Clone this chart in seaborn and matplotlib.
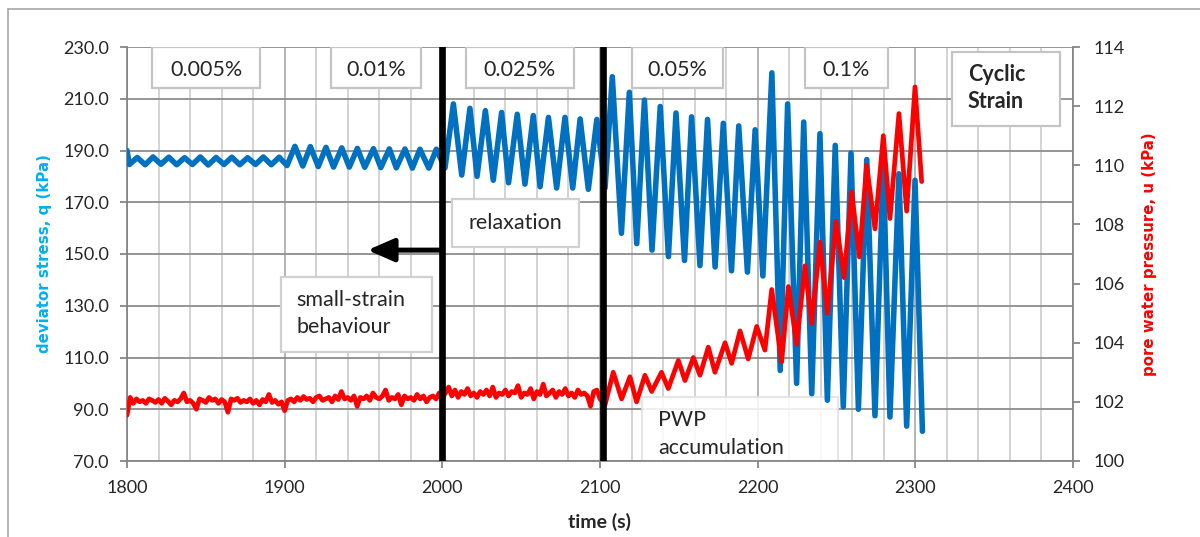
import numpy as np
import pandas as pd
import matplotlib
matplotlib.use("Agg")
import matplotlib.pyplot as plt
import seaborn as sns
from matplotlib.patches import Rectangle
from matplotlib.lines import Line2D
from matplotlib.ticker import MultipleLocator, FixedLocator, FormatStrFormatter

# ---------------- data ----------------
# deviator stress q (kPa): turning points of the cyclic signal
blue_t = [
    1800.0, 1801.5, 1806.5, 1811.5, 1816.5, 1821.5, 1826.5, 1831.5, 1836.5, 1841.5, 1846.5,
    1851.5, 1856.5, 1861.5, 1866.5, 1871.5, 1876.5, 1881.5, 1886.5, 1891.5, 1896.5, 1901.5,
    1906.5, 1911.5, 1916.3, 1921.3, 1926.2, 1931.0, 1936.2, 1941.0, 1946.1, 1950.8,
    1956.3, 1961.0, 1966.4, 1970.8, 1976.3, 1981.0, 1985.8, 1991.4, 1996.2, 2001.7,
    2007.0, 2012.3, 2017.5, 2022.0, 2027.3, 2032.3, 2037.6, 2042.0, 2047.5, 2052.4,
    2057.7, 2062.0, 2067.3, 2072.5, 2077.8, 2082.7, 2087.4, 2092.6, 2098.0, 2103.2,
    2107.8, 2113.6, 2118.6, 2123.3, 2128.2, 2133.0, 2138.2, 2143.4, 2148.2, 2153.6,
    2158.1, 2163.4, 2168.2, 2173.0, 2178.2, 2183.4, 2188.0, 2193.5, 2198.4, 2203.3,
    2209.0, 2214.3, 2219.0, 2224.7, 2229.2, 2234.3, 2239.5, 2244.2, 2249.2, 2254.3,
    2259.2, 2263.9, 2269.2, 2274.4, 2279.7, 2283.9, 2289.6, 2294.5, 2299.8, 2304.5,
]
blue_q = [
    190.0, 184.6, 187.3, 184.5, 187.5, 184.7, 187.4, 184.5, 187.2, 184.6, 187.5,
    184.4, 187.3, 184.6, 187.4, 184.5, 187.2, 184.6, 187.5, 184.5, 187.4, 184.2,
    191.6, 184.0, 191.5, 183.8, 191.2, 183.6, 191.0, 183.6, 190.8, 183.5,
    190.7, 183.4, 190.6, 183.3, 190.6, 183.2, 190.5, 183.2, 190.5, 183.3,
    208.0, 180.5, 206.3, 180.0, 205.4, 178.5, 204.7, 177.5, 204.0, 177.0,
    203.5, 176.0, 202.8, 175.5, 202.8, 175.5, 202.2, 175.0, 202.0, 175.5,
    218.5, 158.0, 212.5, 154.0, 209.5, 151.5, 207.0, 149.0, 204.5, 147.5,
    203.0, 145.5, 202.0, 145.0, 200.5, 143.5, 199.5, 143.0, 198.0, 141.5,
    220.0, 105.0, 208.0, 100.0, 201.0, 96.0, 196.5, 93.5, 192.0, 91.0,
    189.0, 90.0, 186.5, 87.5, 184.5, 87.0, 181.0, 83.5, 178.5, 81.5,
]

# pore water pressure u (kPa): noisy record 1800-2100 s, sampled every 2 s
red_noise_start, red_noise_step = 1800, 2
red_noise_u = [
    101.55, 102.15, 101.95, 102.10, 102.00, 102.05, 101.95, 102.10, 102.05, 101.98,
    102.08, 101.95, 102.12, 102.02, 101.90, 102.05, 102.00, 102.10, 102.30, 102.00,
    102.05, 101.95, 101.75, 102.10, 102.05, 101.98, 102.15, 102.05, 102.10, 101.95,
    102.08, 102.00, 101.65, 102.10, 102.05, 102.12, 101.98, 102.05, 102.00, 102.10,
    101.95, 102.05, 101.90, 102.08, 102.00, 102.25, 101.98, 102.05, 101.92, 102.00,
    101.70,
    102.05, 102.10, 102.00, 102.15, 102.05, 102.18, 102.08, 102.12, 102.00, 102.15,
    102.20, 102.05, 102.10, 102.15, 102.00, 102.20, 102.08, 102.35, 102.10, 102.15,
    102.05, 102.20, 101.85, 102.15, 102.10, 102.20, 102.05, 102.30, 102.15, 102.10,
    102.20, 102.40, 102.05, 102.15, 102.10, 102.25, 101.90, 102.20, 102.10, 102.15,
    102.05, 102.25, 102.10, 102.20, 102.00, 102.15, 102.20, 102.10, 102.30, 102.15,
    102.30, 102.50, 102.20, 102.40, 102.15, 102.35, 102.25, 102.45, 102.20, 102.30,
    102.15, 102.35, 102.25, 102.40, 102.20, 102.50, 102.15, 102.30, 102.25, 102.40,
    102.20, 102.35, 102.30, 102.55, 102.15, 102.30, 102.25, 102.45, 102.10, 102.35,
    102.25, 102.60, 102.20, 102.30, 102.40, 102.15, 102.35, 102.25, 102.45, 102.20,
    102.30, 102.15, 102.40, 102.25, 102.30, 102.20, 101.85, 102.35, 102.40, 102.10,
]
# pore water pressure u (kPa): turning points after 2100 s
red_cyc_t = [
    2103.2, 2108.4, 2113.7, 2119.0, 2123.2, 2128.5, 2132.8, 2139.0, 2143.3, 2149.7,
    2153.9, 2159.2, 2163.4, 2168.7, 2172.9, 2179.3, 2183.5, 2188.8, 2194.0, 2199.4,
    2204.6, 2208.9, 2215.2, 2219.5, 2224.7, 2230.0, 2234.3, 2239.5, 2244.2, 2249.7,
    2254.8, 2259.6, 2264.5, 2269.1, 2274.4, 2279.7, 2283.9, 2289.6, 2294.5, 2299.8,
    2304.0,
]
red_cyc_u = [
    101.90, 103.00, 102.10, 102.85, 102.00, 102.90, 102.35, 103.00, 102.45, 103.40,
    102.72, 103.50, 102.90, 103.85, 103.00, 104.00, 103.30, 104.40, 103.45, 104.55,
    103.75, 105.80, 103.35, 105.90, 103.95, 106.60, 104.65, 107.40, 105.00, 108.10,
    106.20, 109.10, 106.90, 110.00, 107.85, 111.00, 108.20, 111.75, 108.45, 112.65,
    109.45,
]

q_ticks = [70, 90, 110, 130, 150, 170, 190, 210, 230]
u_ticks = [100, 102, 104, 106, 108, 110, 112, 114]
strain_labels = ["0.005%", "0.01%", "0.025%", "0.05%", "0.1%"]
stage_boundaries = [2000, 2102]

# ---------------- frames ----------------
red_noise_t = red_noise_start + red_noise_step * np.arange(len(red_noise_u))
df_q = pd.DataFrame({"time": blue_t, "q": blue_q})
df_u = pd.DataFrame({"time": list(red_noise_t) + red_cyc_t,
                     "u": red_noise_u + red_cyc_u})

# ---------------- style ----------------
sns.set_theme(style="white")
plt.rcParams["font.family"] = ["Lato", "DejaVu Sans"]

BLUE = "#0070C0"
GRIDD = "#8C8C8C"
GRIDL = "#C8C8C8"
SPINE = "#868686"
TXT = 15.5

fig = plt.figure(figsize=(12, 5.37), dpi=100)
ax1 = fig.add_axes([127 / 1200, 76 / 537, 946 / 1200, 414 / 537])

# outer chart border (left & top visible)
fig.add_artist(Line2D([7.5 / 1200, 7.5 / 1200], [0, 1 - 8.5 / 537],
                      transform=fig.transFigure, color="#A6A6A6", lw=1.2))
fig.add_artist(Line2D([7.5 / 1200, 1], [1 - 8.5 / 537, 1 - 8.5 / 537],
                      transform=fig.transFigure, color="#A6A6A6", lw=1.2))

sns.lineplot(data=df_q, x="time", y="q", ax=ax1, color=BLUE, linewidth=4.0,
             estimator=None, sort=False, zorder=3)
ax1.lines[-1].set_solid_joinstyle("round")

ax1.set_xlim(1800, 2400)
ax1.set_ylim(70, 230)
ax1.xaxis.set_major_locator(MultipleLocator(100))
ax1.xaxis.set_minor_locator(MultipleLocator(20))
ax1.yaxis.set_major_locator(FixedLocator(q_ticks))
ax1.yaxis.set_major_formatter(FormatStrFormatter("%.1f"))
ax1.set_axisbelow(True)
ax1.grid(which="major", axis="y", color=GRIDD, lw=1.3)
ax1.grid(which="major", axis="x", color="#A8A8A8", lw=1.2)
ax1.grid(which="minor", axis="x", color=GRIDL, lw=1.1)
for s in ["top", "right"]:
    ax1.spines[s].set_visible(False)
for s in ["left", "bottom"]:
    ax1.spines[s].set_color(SPINE)
    ax1.spines[s].set_linewidth(1.3)
ax1.tick_params(axis="y", which="major", direction="out", length=5, width=1.3,
                color=SPINE, labelsize=13, pad=8, left=True)
ax1.tick_params(axis="x", which="major", direction="out", length=5, width=1.3,
                color=SPINE, labelsize=13, pad=9, bottom=True)
ax1.tick_params(axis="x", which="minor", length=0)
ax1.set_xlabel("time (s)", fontsize=14, fontweight="bold", labelpad=12)
ax1.set_ylabel("deviator stress, q (kPa)", fontsize=10.8, fontweight="bold",
               color="#00B0F0", family="DejaVu Sans", labelpad=8)

# PWP accumulation box (behind the curves)
ax1.add_patch(Rectangle((2126.6, 70), 124.4, 24.7, facecolor="white", alpha=0.85,
                        edgecolor="#E2E2E2", lw=1.5, zorder=1))
ax1.text(2136.8, 85.8, "PWP", fontsize=TXT, va="center", ha="left", zorder=1.5)
ax1.text(2136.8, 75.0, "accumulation", fontsize=TXT, va="center", ha="left", zorder=1.5)

# ---------------- right axis ----------------
ax2 = ax1.twinx()
sns.lineplot(data=df_u, x="time", y="u", ax=ax2, color="red", linewidth=3.4,
             estimator=None, sort=False, zorder=3)
ax2.lines[-1].set_solid_joinstyle("round")
ax2.set_ylim(100, 114)
ax2.yaxis.set_major_locator(FixedLocator(u_ticks))
for s in ["top", "left", "bottom"]:
    ax2.spines[s].set_visible(False)
ax2.spines["right"].set_color(SPINE)
ax2.spines["right"].set_linewidth(1.3)
ax2.tick_params(axis="y", direction="out", length=5, width=1.3, color=SPINE,
                labelsize=13, pad=10, right=True)
ax2.set_ylabel("pore water pressure, u (kPa)", fontsize=10.8, fontweight="bold",
               color="red", family="DejaVu Sans", labelpad=12)
ax2.set_xlabel("")

# stage boundaries
for xb in stage_boundaries:
    ax2.axvline(xb, color="black", lw=4.8, zorder=5)

T = ax1.transData


def box(x0, y0, x1, y1, ec="#C4C4C4"):
    ax2.add_patch(Rectangle((x0, y0), x1 - x0, y1 - y0, transform=T,
                            facecolor="white", edgecolor=ec, lw=1.6, zorder=6))


# strain amplitude boxes along the top
strain_boxes = [(1815.9, 1884.4), (1929.4, 1986.5), (2015.0, 2083.5),
                (2120.3, 2178.0), (2230.0, 2282.6)]
for lab, (x0, x1) in zip(strain_labels, strain_boxes):
    box(x0, 214.2, x1, 230.0)
    ax2.text((x0 + x1) / 2, 221.3, lab, transform=T, ha="center", va="center",
             fontsize=TXT, zorder=7)

# Cyclic Strain
box(2323.2, 199.5, 2391.7, 228.1)
ax2.text(2333.4, 219.2, "Cyclic", transform=T, ha="left", va="center",
         fontsize=TXT, fontweight="bold", zorder=7)
ax2.text(2333.4, 209.1, "Strain", transform=T, ha="left", va="center",
         fontsize=TXT, fontweight="bold", zorder=7)

# relaxation
box(2005.9, 152.8, 2086.9, 171.1, ec="#D0D0D0")
ax2.text(2046.5, 162.0, "relaxation", transform=T, ha="center", va="center",
         fontsize=TXT, zorder=7)

# small-strain behaviour
box(1897.5, 112.2, 1993.3, 141.2, ec="#D0D0D0")
ax2.text(1907.6, 132.2, "small-strain", transform=T, ha="left", va="center",
         fontsize=TXT, zorder=7)
ax2.text(1907.6, 121.9, "behaviour", transform=T, ha="left", va="center",
         fontsize=TXT, zorder=7)

# arrow
ax2.annotate("", xy=(1952.6, 151.5), xytext=(2000, 151.5), xycoords=T, textcoords=T,
             arrowprops=dict(arrowstyle="-|>,head_length=0.8,head_width=0.35",
                             mutation_scale=20, lw=3.6, color="black",
                             shrinkA=0, shrinkB=0), zorder=6)

fig.savefig("out.png", dpi=100)
